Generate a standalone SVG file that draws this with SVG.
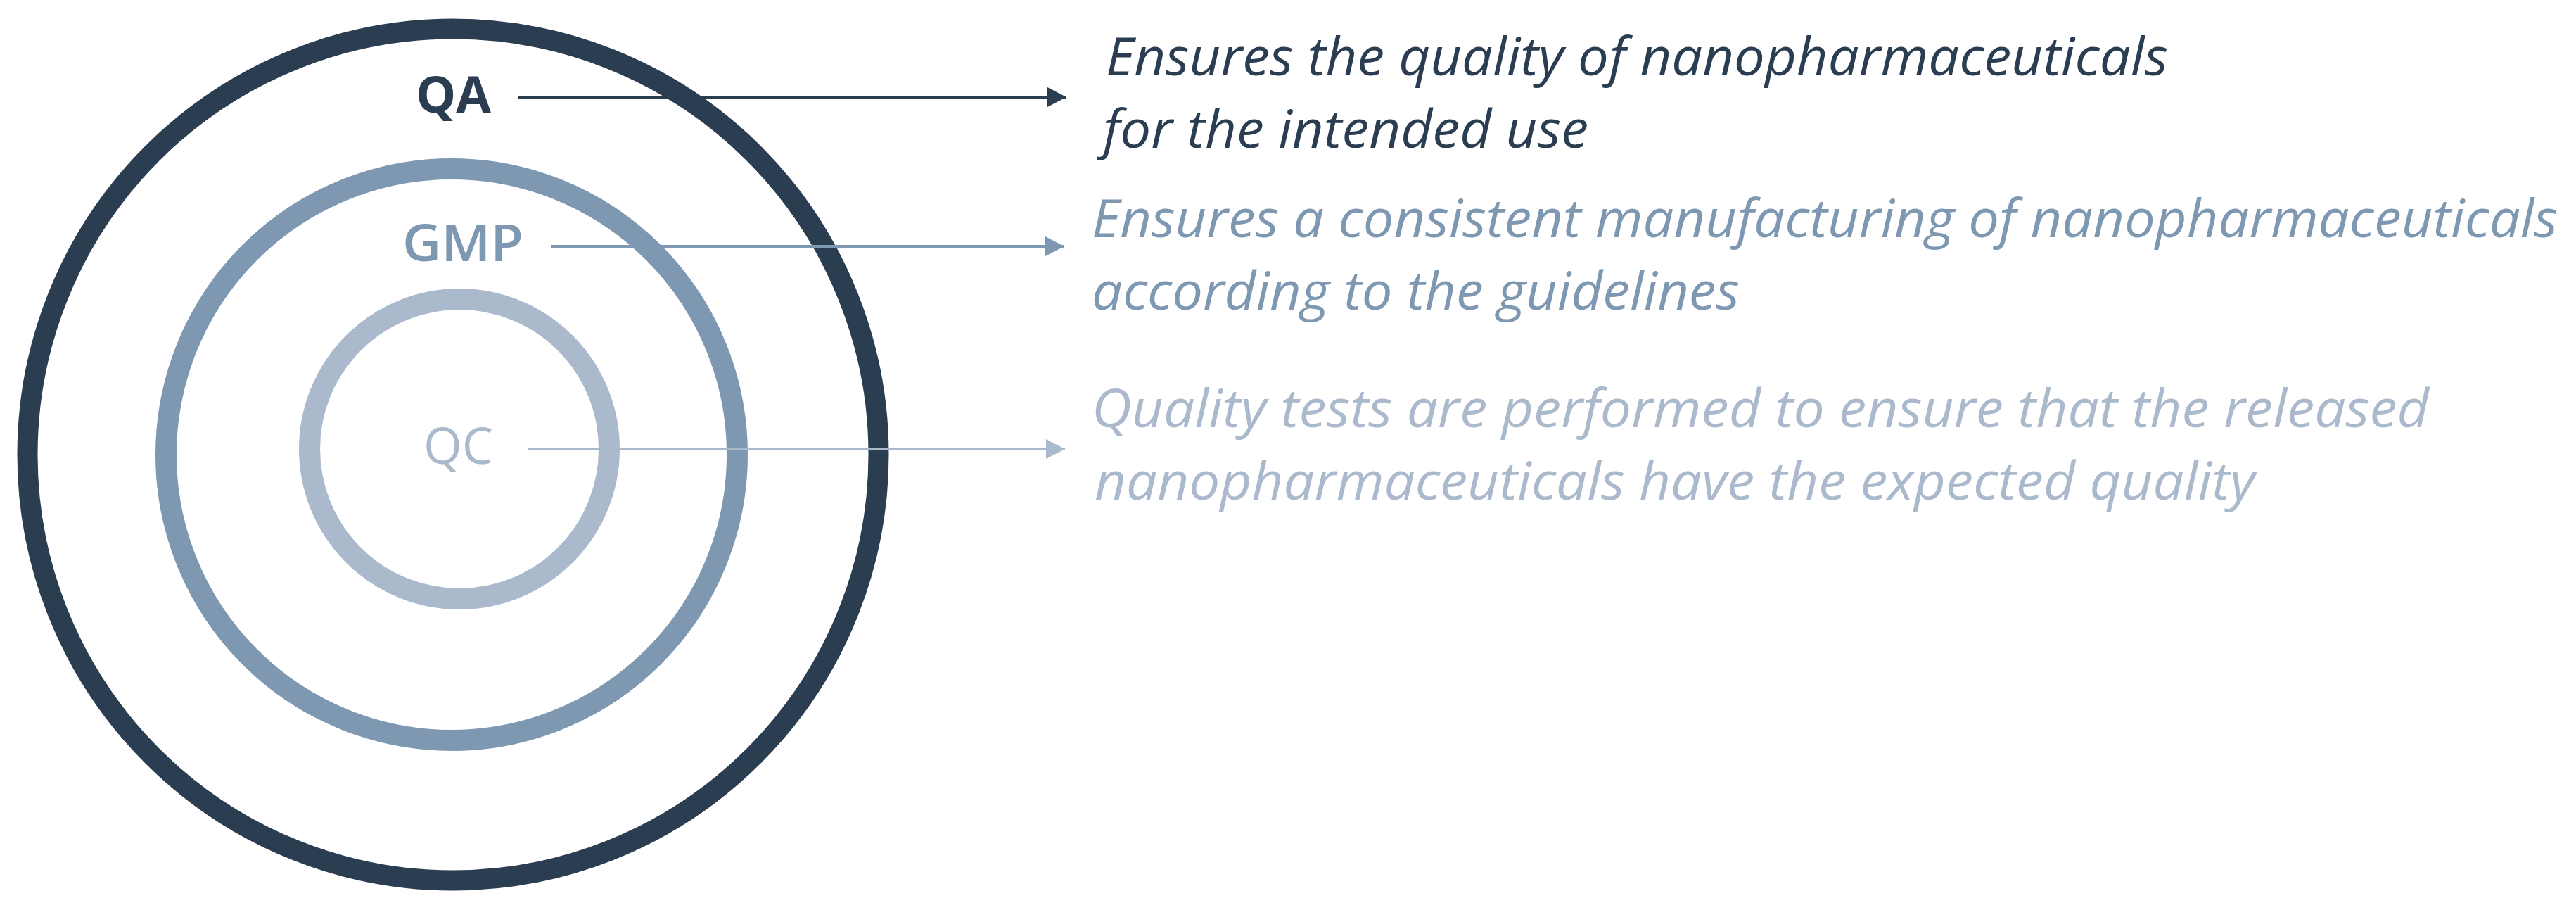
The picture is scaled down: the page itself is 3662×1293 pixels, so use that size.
<svg xmlns="http://www.w3.org/2000/svg" width="3662" height="1293" viewBox="0 0 3662 1293">
<style>
.ring{fill:none}
.lbl{font-family:"Open Sans","Liberation Sans",sans-serif;font-size:72px}
.desc{font-family:"Open Sans","Liberation Sans",sans-serif;font-size:75px;font-style:italic;font-weight:400}
.dark{fill:#2a3d51}
.mid{fill:#7e98b2}
.light{fill:#aab9cb}
.conn{stroke-width:4;fill:none}
</style>
<defs>
<marker id="ahD" markerUnits="userSpaceOnUse" markerWidth="28" markerHeight="30" refX="27" refY="14" orient="auto"><polygon points="0,0 27,14 0,28" fill="#2a3d51"/></marker>
<marker id="ahM" markerUnits="userSpaceOnUse" markerWidth="28" markerHeight="30" refX="27" refY="14" orient="auto"><polygon points="0,0 27,14 0,28" fill="#7e98b2"/></marker>
<marker id="ahL" markerUnits="userSpaceOnUse" markerWidth="28" markerHeight="30" refX="27" refY="14" orient="auto"><polygon points="0,0 27,14 0,28" fill="#aab9cb"/></marker>
</defs>
<rect width="3662" height="1293" fill="#ffffff"/>
<g id="ring-qa"><circle class="ring" cx="644" cy="646" r="605" stroke="#2a3d51" stroke-width="29"/></g>
<g id="ring-gmp"><circle class="ring" cx="642" cy="646" r="406" stroke="#7e98b2" stroke-width="30"/></g>
<g id="ring-qc"><circle class="ring" cx="653" cy="638" r="213" stroke="#aab9cb" stroke-width="30"/></g>
<g id="connectors">
<line class="conn" x1="737" y1="138" x2="1516" y2="138" stroke="#2a3d51" marker-end="url(#ahD)"/>
<line class="conn" x1="784" y1="350" x2="1513" y2="350" stroke="#7e98b2" marker-end="url(#ahM)"/>
<line class="conn" x1="751" y1="638" x2="1514" y2="638" stroke="#aab9cb" marker-end="url(#ahL)"/>
</g>
<g id="node-qa">
<text class="lbl dark" x="591" y="160" font-weight="700" textLength="107" lengthAdjust="spacingAndGlyphs">QA</text>
<text class="desc dark" x="1572" y="107" textLength="1510" lengthAdjust="spacingAndGlyphs">Ensures the quality of nanopharmaceuticals</text>
<text class="desc dark" x="1568" y="210" textLength="690" lengthAdjust="spacingAndGlyphs">for the intended use</text>
</g>
<g id="node-gmp">
<text class="lbl mid" x="572" y="371" font-weight="600" textLength="172" lengthAdjust="spacingAndGlyphs">GMP</text>
<text class="desc mid" x="1552" y="337" textLength="2084" lengthAdjust="spacingAndGlyphs">Ensures a consistent manufacturing of nanopharmaceuticals</text>
<text class="desc mid" x="1552" y="440" textLength="921" lengthAdjust="spacingAndGlyphs">according to the guidelines</text>
</g>
<g id="node-qc">
<text class="lbl light" x="602" y="659" textLength="99" lengthAdjust="spacingAndGlyphs">QC</text>
<text class="desc light" x="1552" y="607" textLength="1901" lengthAdjust="spacingAndGlyphs">Quality tests are performed to ensure that the released</text>
<text class="desc light" x="1556" y="710" textLength="1650" lengthAdjust="spacingAndGlyphs">nanopharmaceuticals have the expected quality</text>
</g>
</svg>
